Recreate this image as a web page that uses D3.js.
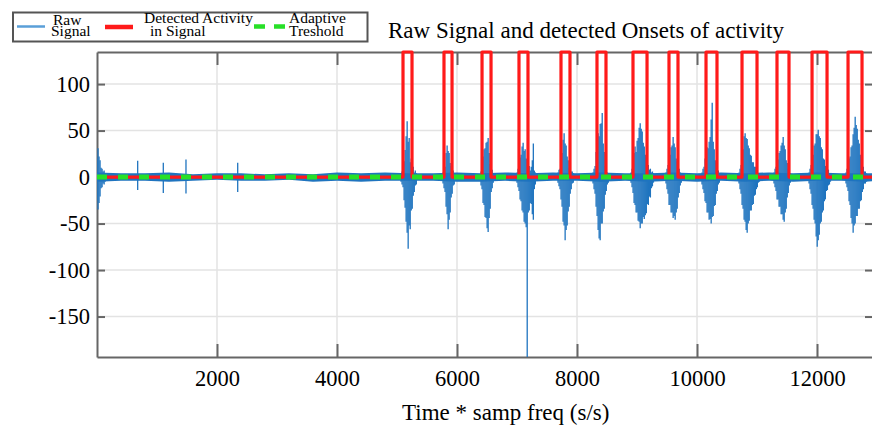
<!DOCTYPE html>
<html>
<head>
<meta charset="utf-8">
<script src="https://cdn.jsdelivr.net/npm/d3@7"></script>
<style>
  body { margin: 0; background: #fff; }
  text { font-family: "Liberation Serif", "Times New Roman", serif; fill: #000; }
</style>
</head>
<body>
<div id="chart"></div>
<script>
// axis set-up
var xDomain = [0, 12933];
var yDomain = [-193.5, 134.5];
var xTicks = [2000, 4000, 6000, 8000, 10000, 12000];
var yTicks = [100, 50, 0, -50, -100, -150];

// detected activity: onset / offset of each pulse (samples)
var onsets  = [5100, 5783, 6417, 7033, 7733, 8333, 8933, 9533, 10150, 10750, 11333, 11917, 12517];
var offsets = [5250, 5917, 6567, 7183, 7883, 8483, 9167, 9683, 10333, 11000, 11533, 12167, 12750];
var activityLevel = 134.5;
var threshold = 0;

// raw signal, quiet part: max / min of the noise floor
var noiseX  = [0, 400, 800, 1200, 1600, 2000, 2400, 2800, 3200, 3600, 4000, 4400, 4800, 5200, 5600, 6000, 6400,
               6800, 7200, 7600, 8000, 8400, 8800, 9200, 9600, 10000, 10400, 10800, 11200, 11600, 12000, 12400, 12800, 13000];
var noiseHi = [5, 4, 4, 5, 3, 4, 4, 3, 4, 3, 5, 4, 5, 4, 4, 5, 4, 5, 4, 5, 4, 5, 4, 4, 5, 4, 5, 4, 5, 4, 5, 4, 4, 4];
var noiseLo = [-5, -4, -4, -5, -4, -3, -4, -4, -3, -5, -4, -5, -4, -4, -4, -5, -5, -4, -5, -4, -4, -5, -4, -5, -4, -5, -4, -5, -4, -5, -4, -4, -5, -4];

// isolated spikes in the quiet part
var spikeX  = [678, 1105, 1483, 2345];
var spikeHi = [17.6, 15.5, 19, 15.5];
var spikeLo = [-14, -17, -17.6, -16];

// raw signal bursts: per-column max / min, one column every colStep samples
var colStep = 17;
var burstStart = [0, 5067, 5767, 6400, 7000, 7683, 8267, 8900, 9483, 10083, 10700, 11283, 11867, 12483];
var burstHi = [
  [20, 31, 22, 18, 10, 9, 6, 7, 4],
  [4, 6, 7, 17, 29, 44, 60, 38, 42, 16, 20, 9, 11, 5, 7, 4],
  [5, 9, 11, 26, 34, 28, 26, 15, 12, 6, 7, 4],
  [6, 11, 22, 30, 31, 37, 38, 42, 26, 14, 7, 8, 4],
  [5, 9, 11, 21, 24, 33, 37, 28, 30, 20, 19, 10, 12, 7, 11, 18, 36, 7, 5],
  [5, 8, 9, 20, 26, 40, 47, 36, 34, 22, 18, 10, 11, 6, 6, 4],
  [5, 9, 12, 27, 33, 47, 44, 57, 58, 69, 36, 27, 12, 10, 5, 4],
  [5, 9, 13, 26, 33, 27, 39, 42, 53, 58, 52, 49, 37, 33, 24, 21, 13, 13, 8, 9, 5, 6, 4],
  [5, 9, 13, 22, 24, 32, 34, 43, 36, 32, 20, 17, 10, 9, 5, 4],
  [5, 9, 11, 20, 23, 32, 31, 38, 43, 62, 80, 38, 30, 18, 15, 8, 7, 4],
  [5, 9, 13, 24, 30, 44, 47, 42, 41, 34, 31, 24, 23, 16, 16, 11, 11, 7, 7, 4, 4],
  [5, 9, 11, 17, 19, 26, 28, 34, 37, 43, 34, 30, 18, 15, 9, 8, 4],
  [5, 9, 13, 22, 24, 34, 36, 46, 46, 51, 44, 42, 32, 30, 20, 19, 12, 12, 8, 8, 4, 4],
  [5, 9, 11, 20, 22, 32, 34, 46, 53, 65, 56, 52, 40, 36, 24, 22, 12, 11, 6, 6, 4]
];
var burstLo = [
  [-25, -35, -28, -21, -12, -11, -7, -8, -5],
  [-5, -8, -11, -25, -33, -48, -60, -77, -52, -56, -36, -34, -20, -16, -9, -8],
  [-7, -12, -16, -32, -40, -56, -46, -38, -22, -18, -9, -8],
  [-9, -13, -28, -30, -43, -44, -55, -59, -44, -34, -16, -12, -6],
  [-6, -11, -15, -24, -26, -36, -38, -48, -50, -54, -195, -38, -36, -28, -29, -40, -46, -13, -8],
  [-6, -10, -13, -24, -32, -48, -52, -68, -57, -52, -37, -32, -18, -13, -7, -6],
  [-7, -13, -18, -32, -42, -57, -66, -68, -50, -50, -37, -34, -19, -15, -8, -6],
  [-6, -11, -17, -28, -30, -38, -38, -47, -48, -55, -50, -50, -43, -45, -41, -39, -29, -30, -21, -22, -12, -10, -6],
  [-7, -13, -18, -30, -30, -38, -38, -44, -42, -46, -38, -34, -22, -17, -9, -6],
  [-8, -13, -17, -26, -28, -38, -38, -46, -45, -50, -43, -42, -31, -30, -18, -15, -8, -6],
  [-7, -13, -18, -30, -34, -46, -48, -57, -60, -50, -47, -36, -36, -30, -29, -20, -19, -13, -11, -6, -5],
  [-7, -11, -15, -24, -24, -32, -32, -40, -40, -46, -48, -38, -34, -22, -17, -9, -6],
  [-7, -13, -18, -30, -34, -46, -50, -64, -75, -68, -62, -50, -48, -38, -36, -26, -24, -15, -14, -9, -8, -5],
  [-7, -11, -15, -26, -30, -44, -50, -60, -52, -50, -42, -42, -34, -34, -26, -25, -16, -13, -7, -7, -5]
];

var W = 872, H = 426;
var plotL = 97, plotR = 873, plotT = 52, plotB = 357;
var blue = "#1f74bf", red = "#ff1a1a", green = "#27e027", axisGrey = "#666";

var svg = d3.select("#chart").append("svg").attr("width", W).attr("height", H);

var x = d3.scaleLinear().domain(xDomain).range([plotL, plotR]);
var y = d3.scaleLinear().domain(yDomain).range([plotB, plotT]);

svg.append("clipPath").attr("id", "clip")
  .append("rect").attr("x", plotL).attr("y", plotT).attr("width", plotR - plotL).attr("height", plotB - plotT);

// grid
svg.append("g").selectAll("line").data(xTicks).join("line")
  .attr("x1", function(d) { return x(d); }).attr("x2", function(d) { return x(d); })
  .attr("y1", plotT).attr("y2", plotB)
  .attr("stroke", "#e3e3e3").attr("stroke-width", 1.5);
svg.append("g").selectAll("line").data(yTicks).join("line")
  .attr("y1", function(d) { return y(d); }).attr("y2", function(d) { return y(d); })
  .attr("x1", plotL).attr("x2", plotR)
  .attr("stroke", "#e3e3e3").attr("stroke-width", 1.5);

// axes (box with inward ticks)
var plain = function(d) { return String(d); };
function styleAxis(g) {
  g.select(".domain").attr("stroke", axisGrey).attr("stroke-width", 2);
  g.selectAll(".tick line").attr("stroke", axisGrey).attr("stroke-width", 2);
  g.selectAll(".tick text").style("font-family", "Liberation Serif").style("font-size", "22.5px").attr("fill", "#000");
}
svg.append("g").attr("transform", "translate(0," + plotB + ")")
  .call(d3.axisBottom(x).tickValues(xTicks).tickFormat(plain).tickSizeInner(-13).tickSizeOuter(0).tickPadding(13))
  .call(styleAxis);
svg.append("g").attr("transform", "translate(0," + plotT + ")")
  .call(d3.axisTop(x).tickValues(xTicks).tickSizeInner(-13).tickSizeOuter(0).tickFormat(""))
  .call(styleAxis);
svg.append("g").attr("transform", "translate(" + plotL + ",0)")
  .call(d3.axisLeft(y).tickValues(yTicks).tickFormat(plain).tickSizeInner(-8).tickSizeOuter(0).tickPadding(7))
  .call(styleAxis);
svg.append("g").attr("transform", "translate(" + plotR + ",0)")
  .call(d3.axisRight(y).tickValues(yTicks).tickSizeInner(-8).tickSizeOuter(0).tickFormat(""))
  .call(styleAxis);

// raw signal
var sig = svg.append("g").attr("clip-path", "url(#clip)");
var noise = noiseX.map(function(v, i) { return { x: v, hi: noiseHi[i], lo: noiseLo[i] }; });
sig.append("path").datum(noise)
  .attr("d", d3.area().x(function(d) { return x(d.x); })
    .y0(function(d) { return y(d.lo); }).y1(function(d) { return y(d.hi); }))
  .attr("fill", blue);

var cols = [];
burstStart.forEach(function(s, b) {
  burstHi[b].forEach(function(h, j) {
    cols.push({ x: s + j * colStep, hi: h, lo: burstLo[b][j] });
  });
});
spikeX.forEach(function(s, i) { cols.push({ x: s, hi: spikeHi[i], lo: spikeLo[i] }); });

sig.selectAll("line.col").data(cols).join("line").attr("class", "col")
  .attr("x1", function(d) { return x(d.x); }).attr("x2", function(d) { return x(d.x); })
  .attr("y1", function(d) { return y(d.hi); }).attr("y2", function(d) { return y(d.lo); })
  .attr("stroke", blue).attr("stroke-width", 1.3);

// detected activity (step line)
var act = [[xDomain[0], threshold]];
onsets.forEach(function(on, i) {
  act.push([on, threshold], [on, activityLevel], [offsets[i], activityLevel], [offsets[i], threshold]);
});
act.push([xDomain[1], threshold]);
var line = d3.line().x(function(d) { return x(d[0]); }).y(function(d) { return y(d[1]); });
svg.append("path").datum(act).attr("d", line)
  .attr("fill", "none").attr("stroke", red).attr("stroke-width", 3.2)
  .attr("stroke-linejoin", "round");

// adaptive threshold
svg.append("path").datum([[xDomain[0], threshold], [xDomain[1], threshold]]).attr("d", line)
  .attr("fill", "none").attr("stroke", green).attr("stroke-width", 5)
  .attr("stroke-dasharray", "10,11");

// titles
svg.append("text").attr("x", 388).attr("y", 38).style("font-size", "23px")
  .text("Raw Signal and detected Onsets of activity");
svg.append("text").attr("x", 402).attr("y", 420).style("font-size", "23px")
  .text("Time * samp freq (s/s)");

// legend
var lg = svg.append("g");
lg.append("rect").attr("x", 13).attr("y", 12.5).attr("width", 354.5).attr("height", 29)
  .attr("fill", "#fff").attr("stroke", "#555").attr("stroke-width", 2);
lg.append("line").attr("x1", 17).attr("x2", 45).attr("y1", 26.5).attr("y2", 26.5)
  .attr("stroke", "#5a9fd8").attr("stroke-width", 2.5);
lg.append("line").attr("x1", 105).attr("x2", 133).attr("y1", 27).attr("y2", 27)
  .attr("stroke", red).attr("stroke-width", 4.5);
lg.append("line").attr("x1", 254).attr("x2", 286).attr("y1", 26.5).attr("y2", 26.5)
  .attr("stroke", green).attr("stroke-width", 4.5).attr("stroke-dasharray", "11,9");
var legendText = [
  ["Raw", 53, 24.5], ["Signal", 51, 36],
  ["Detected Activity", 144, 22.5], ["in Signal", 150, 36],
  ["Adaptive", 289, 22.5], ["Treshold", 289, 36]
];
lg.selectAll("text").data(legendText).join("text")
  .attr("x", function(d) { return d[1]; }).attr("y", function(d) { return d[2]; })
  .style("font-size", "15.5px")
  .text(function(d) { return d[0]; });
</script>
</body>
</html>
